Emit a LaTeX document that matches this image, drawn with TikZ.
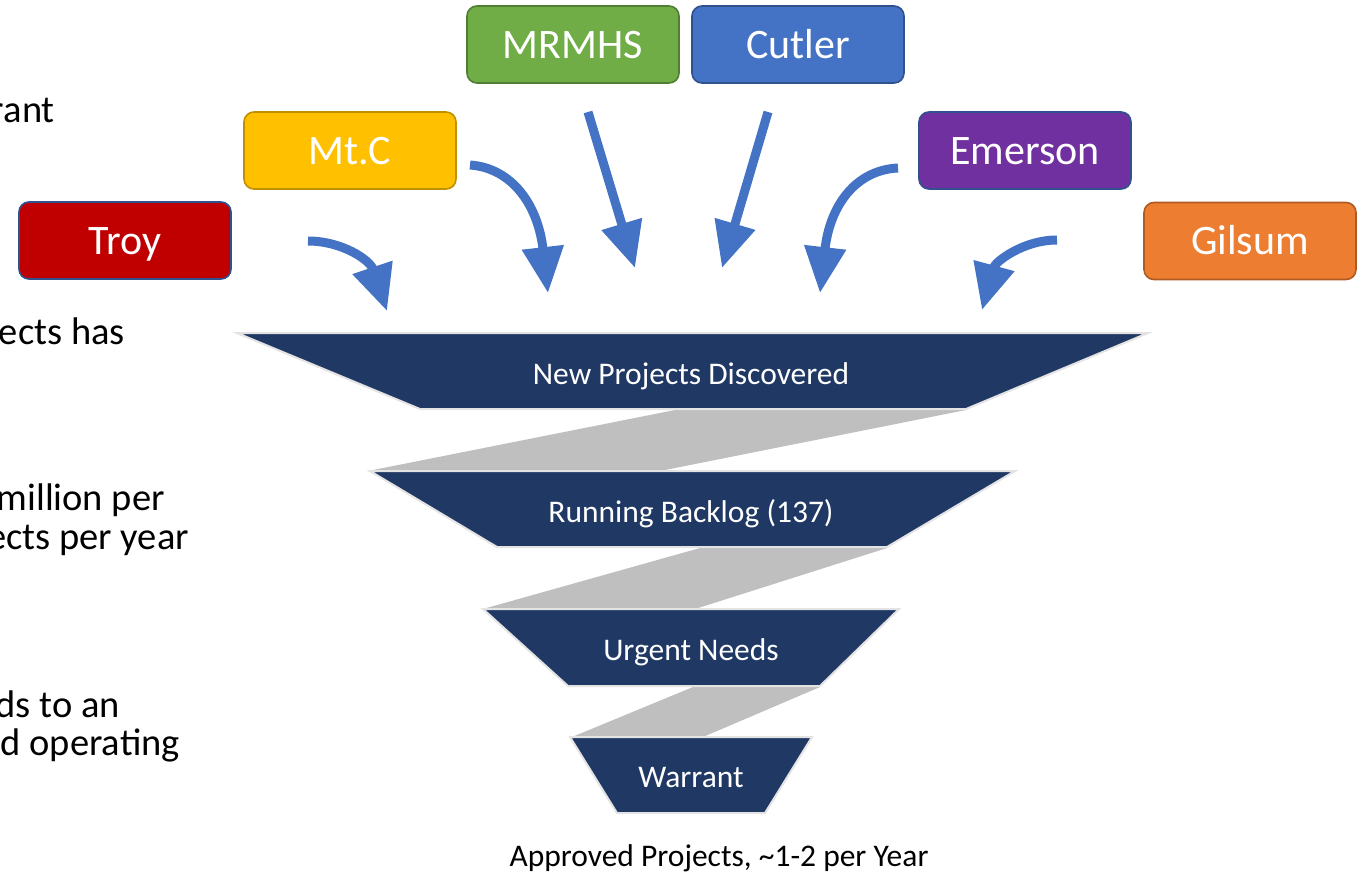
\documentclass[tikz,border=0pt]{standalone}
\usepackage{fontspec}
\setmainfont{Carlito}
\usetikzlibrary{arrows.meta}
\definecolor{navy}{HTML}{203864}
\definecolor{edgegray}{HTML}{E3E3E3}
\definecolor{bandgray}{HTML}{BFBFBF}
\definecolor{arrowblue}{HTML}{4472C4}
\definecolor{troyred}{HTML}{C00000}
\definecolor{mtcyellow}{HTML}{FFC000}
\definecolor{mtcedge}{HTML}{BF9000}
\definecolor{mrgreen}{HTML}{70AD47}
\definecolor{mredge}{HTML}{507E32}
\definecolor{cutblue}{HTML}{4472C4}
\definecolor{blueedge}{HTML}{2F528F}
\definecolor{empurple}{HTML}{7030A0}
\definecolor{gilorange}{HTML}{ED7D31}
\definecolor{giledge}{HTML}{AE5A21}
\tikzset{
  town/.style={draw, line width=1.6pt, rounded corners=10pt, minimum width=212pt, minimum height=77pt, text=white, font=\fontsize{42}{50}\selectfont, inner sep=0pt, text height=27pt, text depth=0pt},
  seg/.style={fill=navy, draw=edgegray, line width=2pt},
  band/.style={fill=bandgray, draw=none},
  seglabel/.style={text=white, font=\fontsize{31.5}{38}\selectfont, text height=20.5pt, text depth=0pt, inner sep=0pt},
  sidetext/.style={font=\fontsize{38.5}{46}\selectfont, anchor=base east, inner sep=0pt},
  flow/.style={draw=arrowblue, line width=9pt, -{Triangle[width=40pt,length=46pt]}, arrowblue},
}
\begin{document}
\begin{tikzpicture}[x=1pt,y=-1pt]
\clip (0,0) rectangle (1365,873);
\fill[white] (0,0) rectangle (1365,873);

% left clipped text fragments
\node[sidetext] (t1) at (55,122) {rant};
\node[sidetext] (t2) at (125,344) {ects has};
\node[sidetext] (t3) at (165,510) {million per};
\node[sidetext] (t4) at (189,549) {ects per year};
\node[sidetext] (t5) at (120,717) {ds to an};
\node[sidetext] (t6) at (180,755) {d operating};

% gray bands
\path[band] (675,410) -- (966,410) -- (660,471) -- (368,471) -- cycle;
\path[band] (700,548) -- (887,548) -- (695,609) -- (483,609) -- cycle;
\path[band] (693,687) -- (820,687) -- (703,737) -- (572,737) -- cycle;

% funnel segments
\path[seg] (237,333) -- (1148,333) -- (966,409) -- (420,409) -- cycle;
\path[seg] (370,471) -- (1015,471) -- (887,547) -- (497,547) -- cycle;
\path[seg] (483,609) -- (899,609) -- (820,686) -- (568,686) -- cycle;
\path[seg] (570,737) -- (812,737) -- (765,813) -- (617,813) -- cycle;

\node[seglabel] (s1) at (691,374) {New Projects Discovered};
\node[seglabel] (s2) at (691,512) {Running Backlog (137)};
\node[seglabel] (s3) at (691,650) {Urgent Needs};
\node[seglabel] (s4) at (691,777) {Warrant};

\node[font=\fontsize{31.5}{38}\selectfont, text height=20.5pt, text depth=0pt, inner sep=0pt] (appr) at (719,856) {Approved Projects, \textasciitilde1-2 per Year};

% town boxes
\node[town, fill=troyred, draw=blueedge] (troy) at (125,240.5) {Troy};
\node[town, fill=mtcyellow, draw=mtcedge] (mtc) at (350,150.5) {Mt.C};
\node[town, fill=mrgreen, draw=mredge] (mrmhs) at (573,44.5) {MRMHS};
\node[town, fill=cutblue, draw=blueedge] (cutler) at (798,44.5) {Cutler};
\node[town, fill=empurple, draw=blueedge] (emerson) at (1025,150.5) {Emerson};
\node[town, fill=gilorange, draw=giledge] (gilsum) at (1250,241) {Gilsum};

% arrow anchor coordinates
\coordinate (a1s) at (308,241); \coordinate (a1e) at (387,311);
\coordinate (a2s) at (470,165); \coordinate (a2e) at (548,293);
\coordinate (a3s) at (588,112); \coordinate (a3e) at (635,268);
\coordinate (a4s) at (768,112); \coordinate (a4e) at (722,268);
\coordinate (a5s) at (898,168); \coordinate (a5e) at (820,293);
\coordinate (a6s) at (1057,240); \coordinate (a6e) at (982,310);

\draw[flow] (a1s) .. controls (342,241) and (370,260) .. (a1e);
\draw[flow] (a2s) .. controls (512,168) and (538,205) .. (a2e);
\draw[flow] (a3s) -- (a3e);
\draw[flow] (a4s) -- (a4e);
\draw[flow] (a5s) .. controls (856,170) and (830,205) .. (a5e);
\draw[flow] (a6s) .. controls (1023,240) and (995,262) .. (a6e);
\end{tikzpicture}
\end{document}
